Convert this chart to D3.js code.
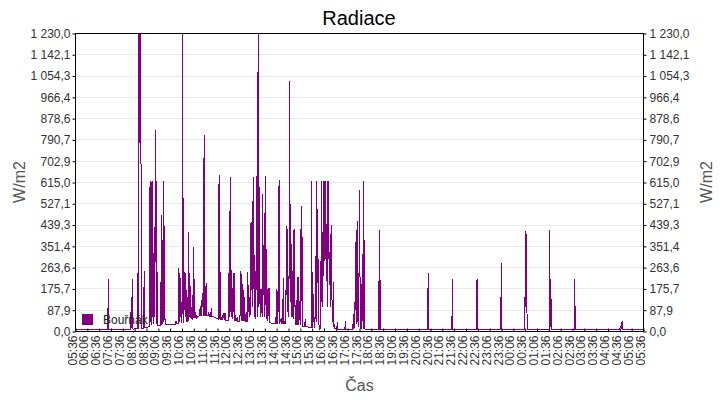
<!DOCTYPE html>
<meta charset="utf-8">
<script src="https://d3js.org/d3.v7.min.js"></script>
<body style="margin:0;background:#fff">
<div id="chart"></div>
</body>
<script>
// values
const title = "Radiace";
const seriesName = "Bouřňák";
const yLabel = "W/m2";
const xLabel = "Čas";
const yMax = 1230;
const yTicks = [0, 87.86, 175.71, 263.57, 351.43, 439.29, 527.14, 615, 702.86, 790.71, 878.57, 966.43, 1054.29, 1142.14, 1230];
const xTickLabels = ["05:36","06:06","06:36","07:06","07:36","08:06","08:36","09:06","09:36","10:06","10:36","11:06","11:36",
  "12:06","12:36","13:06","13:36","14:06","14:36","15:06","15:36","16:06","16:36","17:06","17:36","18:06","18:36","19:06",
  "19:36","20:06","20:36","21:06","21:36","22:06","22:36","23:06","23:36","00:06","00:36","01:06","01:36","02:06","02:36",
  "03:06","03:36","04:06","04:36","05:06","05:36"];

// [time, W/m2]
const radiace = [
  ["05:36",7],["06:58",7],["06:59",215],["07:00",7],
  ["07:56",7],["07:57",111],["07:58",14],["08:00",215],["08:01",12],["08:02",10],
  ["08:13",11],["08:15",314],["08:16",12],["08:17",1230],["08:18",780],["08:19",1230],["08:20",900],["08:21",1230],["08:22",755],["08:23",14],
  ["08:29",14],["08:30",249],["08:31",15],["08:40",18],
  ["08:43",20],["08:44",322],["08:45",623],["08:46",322],["08:47",40],["08:48",322],["08:49",25],["08:50",623],["08:51",322],["08:52",60],
  ["08:53",322],["08:54",30],["08:56",430],["08:57",60],["08:58",430],["08:59",830],["09:00",430],["09:01",30],["09:02",623],["09:03",25],
  ["09:12",25],["09:13",250],["09:14",25],["09:15",479],["09:16",157],["09:17",30],["09:18",157],["09:19",40],["09:20",623],["09:21",157],
  ["09:22",330],["09:23",28],
  ["09:50",30],["09:51",45],["09:52",32],["09:57",35],
  ["09:58",262],["09:59",40],["10:00",240],["10:01",60],["10:02",220],["10:03",200],["10:04",40],["10:06",35],["10:08",1230],["10:09",36],
  ["10:10",268],["10:11",80],["10:12",180],["10:13",245],["10:14",60],["10:15",240],["10:16",100],["10:17",170],["10:18",40],["10:21",40],
  ["10:22",410],["10:23",45],["10:24",240],["10:25",60],["10:26",228],["10:27",100],["10:28",60],["10:30",50],["10:31",100],["10:32",48],
  ["10:33",150],["10:34",55],["10:36",348],["10:37",60],["10:38",160],["10:39",55],["10:41",80],["10:42",55],["10:45",60],
  ["10:48",62],["10:50",64],["10:52",100],["10:53",64],["10:55",130],["10:56",65],["10:58",157],["10:59",120],["11:00",65],["11:01",230],
  ["11:02",813],["11:03",66],["11:04",200],["11:05",170],["11:06",66],["11:07",200],["11:08",110],["11:09",66],["11:13",66],["11:14",80],
  ["11:15",64],["11:18",63],["11:21",95],["11:22",62],
  ["11:30",58],["11:36",52],["11:38",50],["11:40",644],["11:41",50],["11:42",351],["11:43",48],
  ["11:47",48],["11:48",70],["11:49",47],["11:52",75],["11:53",47],["11:55",78],["11:56",46],
  ["12:03",45],["12:04",240],["12:05",70],["12:06",240],["12:07",60],["12:08",637],["12:09",80],["12:10",320],["12:11",60],["12:13",169],
  ["12:14",50],["12:16",240],["12:17",80],["12:18",240],["12:19",45],["12:22",68],["12:23",42],["12:26",60],["12:27",42],
  ["12:31",42],["12:32",68],["12:33",42],["12:34",250],["12:35",120],["12:36",236],["12:37",45],["12:38",150],["12:39",45],["12:40",195],
  ["12:41",45],["12:43",170],["12:44",42],["12:46",70],["12:47",40],["12:49",80],["12:50",40],
  ["12:51",40],["12:52",245],["12:53",60],["12:54",190],["12:55",80],["12:57",120],["12:58",60],["12:59",255],["13:00",70],["13:01",450],
  ["13:02",170],["13:04",537],["13:05",100],["13:07",250],["13:08",637],["13:09",60],["13:11",243],["13:12",50],["13:13",250],["13:14",170],
  ["13:16",640],["13:17",60],["13:19",1230],["13:20",100],["13:22",596],["13:23",285],["13:24",60],["13:25",176],["13:26",80],["13:28",176],
  ["13:29",60],["13:30",568],["13:31",120],["13:32",200],["13:34",360],["13:35",60],["13:37",640],["13:38",110],["13:39",340],["13:40",80],
  ["13:42",45],["13:43",176],["13:44",60],["13:46",180],["13:47",50],["13:48",180],["13:49",36],
  ["13:55",34],["14:02",33],["14:03",60],["14:04",32],
  ["14:05",32],["14:06",175],["14:07",32],["14:09",40],["14:10",327],["14:11",80],["14:12",627],["14:13",32],["14:17",50],["14:18",30],
  ["14:20",60],["14:21",30],["14:23",220],["14:24",30],["14:28",45],["14:29",30],["14:31",435],["14:32",150],["14:33",425],["14:34",80],
  ["14:36",230],["14:37",60],["14:39",1032],["14:40",120],["14:42",528],["14:43",60],["14:45",250],["14:46",60],["14:47",240],["14:48",50],
  ["14:50",421],["14:51",100],["14:52",190],["14:53",28],["14:55",40],["14:56",26],["14:59",224],["15:00",26],["15:01",224],["15:02",25],
  ["15:05",125],["15:06",25],["15:07",425],["15:08",125],["15:10",520],["15:11",22],
  ["15:16",20],["15:17",40],["15:18",20],["15:19",50],["15:20",20],["15:30",17],["15:34",16],
  ["15:35",620],["15:36",16],["15:37",210],["15:38",30],["15:40",155],["15:41",20],["15:42",60],["15:43",15],["15:45",310],["15:46",40],
  ["15:47",620],["15:48",620],["15:49",200],["15:51",300],["15:52",60],["15:54",10],["15:58",12],["15:59",620],["16:00",620],["16:01",100],
  ["16:03",410],["16:04",290],["16:05",230],["16:06",620],["16:07",290],["16:09",620],["16:10",300],["16:11",460],["16:12",250],["16:13",400],
  ["16:14",100],["16:16",620],["16:17",300],["16:18",620],["16:19",200],["16:21",220],["16:22",100],["16:24",440],["16:25",150],["16:27",120],
  ["16:28",40],["16:30",205],["16:31",20],["16:32",30],["16:33",12],["16:38",11],["16:40",37],["16:41",10],
  ["16:55",9],["16:59",9],["17:00",45],["17:01",9],
  ["17:19",8],["17:20",50],["17:21",10],["17:23",120],["17:24",15],["17:27",369],["17:28",30],["17:29",330],["17:30",455],["17:31",40],
  ["17:33",130],["17:34",20],["17:36",582],["17:37",305],["17:38",40],["17:40",10],["17:44",318],["17:45",10],["17:47",620],["17:48",57],
  ["17:50",8],
  ["18:25",7],["18:26",417],["18:27",7],["18:28",212],["18:29",7],
  ["20:28",7],["20:29",30],["20:30",241],["20:31",124],["20:32",7],
  ["21:30",7],["21:31",110],["21:32",215],["21:33",7],
  ["22:32",7],["22:33",150],["22:34",215],["22:35",7],
  ["23:33",7],["23:34",144],["23:35",20],["23:36",282],["23:37",7],
  ["00:34",7],["00:35",144],["00:36",100],["00:38",413],["00:40",211],["00:41",7],
  ["01:37",7],["01:38",417],["01:39",20],["01:40",218],["01:42",108],["01:43",7],
  ["02:40",7],["02:41",215],["02:42",20],["02:43",104],["02:44",7],
  ["04:36",7],["04:37",20],["04:40",15],["04:42",45],["04:43",7],["05:36",7]
];

const width = 720, height = 400;
const margin = {top: 33.5, right: 76.5, bottom: 68.5, left: 75.5};
const w = width - margin.left - margin.right,
      h = height - margin.top - margin.bottom;
const purple = "#800080";
const font = "'Liberation Sans', Arial, sans-serif";

// HH:MM strings -> dates, rolling over midnight when the clock goes back
function toDates(list) {
  let day = 0, prev = -1;
  return list.map(s => {
    const [hh, mm] = s.split(":").map(Number);
    let t = hh * 60 + mm + day;
    if (t < prev) { day += 1440; t += 1440; }
    prev = t;
    return new Date(2000, 0, 1, 0, t);
  });
}

const dates = toDates(radiace.map(d => d[0]));
const data = radiace.map((d, i) => ({date: dates[i], value: d[1]}));
const tickDates = toDates(xTickLabels);

const cz = d3.formatLocale({decimal: ",", thousands: " ", grouping: [3], currency: ["", ""]});
const fmt = cz.format(",.1f");

const svg = d3.select("#chart").append("svg")
    .attr("width", width)
    .attr("height", height)
    .style("font-family", font);

const g = svg.append("g")
    .attr("transform", `translate(${margin.left},${margin.top})`);

const x = d3.scaleTime()
    .domain([tickDates[0], tickDates[tickDates.length - 1]])
    .range([0, w]);
const y = d3.scaleLinear().domain([0, yMax]).range([h, 0]);

// grid
g.append("g")
  .selectAll("line")
  .data(yTicks.slice(1, -1))
  .join("line")
    .attr("x1", 0).attr("x2", w)
    .attr("y1", d => Math.round(y(d)))
    .attr("y2", d => Math.round(y(d)))
    .attr("stroke", "#e9e9e9");

// the series
g.append("path")
    .datum(data)
    .attr("fill", "none")
    .attr("stroke", purple)
    .attr("stroke-width", 1)
    .attr("shape-rendering", "crispEdges")
    .attr("d", d3.line().x(d => x(d.date)).y(d => y(d.value)));

// axes
const yLeft = g.append("g")
    .call(d3.axisLeft(y).tickValues(yTicks).tickSize(3).tickSizeOuter(0).tickPadding(2).tickFormat(fmt));
const yRight = g.append("g")
    .attr("transform", `translate(${w},0)`)
    .call(d3.axisRight(y).tickValues(yTicks).tickSize(3).tickSizeOuter(0).tickPadding(3).tickFormat(fmt));

const xAxis = g.append("g")
    .attr("transform", `translate(0,${h})`)
    .call(d3.axisBottom(x).tickValues(tickDates).tickSize(-3).tickSizeOuter(0)
      .tickFormat((d, i) => xTickLabels[i]));
xAxis.selectAll("text")
    .attr("transform", "rotate(-90)")
    .attr("text-anchor", "end")
    .attr("x", -4)
    .attr("y", 0.5)
    .attr("dy", 0);

[yLeft, yRight, xAxis].forEach(a => {
  a.select(".domain").remove();
  a.selectAll("line").attr("stroke", "#000");
  a.selectAll("text").attr("fill", "#333").style("font-size", "12px").style("font-family", font);
});

// frame
g.append("rect")
    .attr("width", w).attr("height", h)
    .attr("fill", "none")
    .attr("stroke", "#000");

// titles
svg.append("text")
    .attr("x", 359).attr("y", 24.5)
    .attr("text-anchor", "middle")
    .style("font-size", "20px")
    .attr("fill", "#000")
    .text(title);

svg.append("text")
    .attr("x", 359.5).attr("y", 391)
    .attr("text-anchor", "middle")
    .style("font-size", "16px")
    .attr("fill", "#555")
    .text(xLabel);

svg.append("text")
    .attr("transform", "translate(25,182) rotate(-90)")
    .attr("text-anchor", "middle")
    .style("font-size", "16px")
    .attr("fill", "#555")
    .text(yLabel);

svg.append("text")
    .attr("transform", "translate(712,182) rotate(-90)")
    .attr("text-anchor", "middle")
    .style("font-size", "16px")
    .attr("fill", "#555")
    .text(yLabel);

// legend
const legend = svg.append("g").attr("transform", "translate(82,314)");
legend.append("rect")
    .attr("width", 11).attr("height", 11)
    .attr("fill", purple);
legend.append("text")
    .attr("x", 21).attr("y", 10)
    .style("font-size", "12px")
    .attr("fill", "#222")
    .text(seriesName);
</script>
